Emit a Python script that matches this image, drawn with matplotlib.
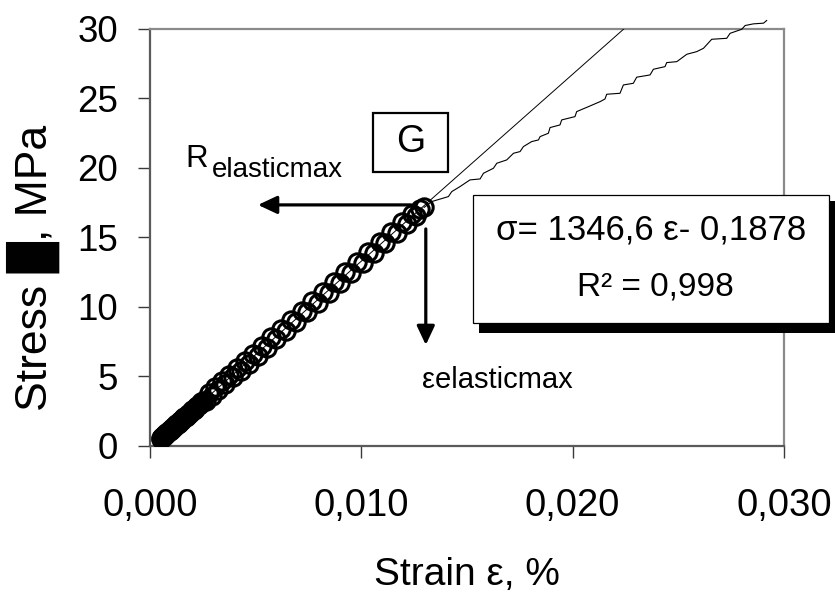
from __future__ import annotations

import matplotlib

matplotlib.use("Agg")
import matplotlib.pyplot as plt
from matplotlib.patches import Rectangle


# circles: measured points of the elastic part (strain, stress)
STRAIN = [
    0.00050, 0.00052, 0.00055, 0.00056, 0.00058, 0.00061, 0.00062, 0.00064, 0.00067, 0.00068,
    0.00070, 0.00073, 0.00074, 0.00076, 0.00078, 0.00080, 0.00082, 0.00084, 0.00086, 0.00088,
    0.00090, 0.00093, 0.00095, 0.00098, 0.00101, 0.00104, 0.00107, 0.00110, 0.00113, 0.00117,
    0.00120, 0.00124, 0.00128, 0.00132, 0.00136, 0.00140, 0.00144, 0.00149, 0.00153, 0.00158,
    0.00163, 0.00168, 0.00173, 0.00178, 0.00183, 0.00189, 0.00194, 0.00200, 0.00206, 0.00212,
    0.00218, 0.00224, 0.00230, 0.00237, 0.00243, 0.00250,
    0.00264, 0.00278, 0.00293, 0.00308, 0.00324, 0.00340, 0.00357, 0.00374, 0.00392, 0.00410,
    0.00429, 0.00448, 0.00468, 0.00488, 0.00509, 0.00530, 0.00552, 0.00574, 0.00597, 0.00620,
    0.00644, 0.00668, 0.00692, 0.00717, 0.00742, 0.00767, 0.00793, 0.00819, 0.00845, 0.00871,
    0.00898, 0.00925, 0.00952, 0.00979, 0.01006, 0.01033, 0.01060, 0.01087, 0.01114, 0.01141,
    0.01167, 0.01192, 0.01216, 0.01238, 0.01258, 0.01276, 0.01297,
]
STRESS = [
    0.50, 0.55, 0.52, 0.62, 0.63, 0.60, 0.64, 0.71, 0.69, 0.74,
    0.78, 0.76, 0.80, 0.86, 0.88, 0.87, 0.92, 0.97, 1.00, 1.02,
    1.02, 1.04, 1.10, 1.16, 1.15, 1.19, 1.25, 1.33, 1.33, 1.37,
    1.42, 1.52, 1.52, 1.57, 1.64, 1.74, 1.76, 1.80, 1.86, 1.98,
    2.02, 2.05, 2.14, 2.25, 2.30, 2.33, 2.44, 2.55, 2.58, 2.63,
    2.76, 2.88, 2.90, 2.96, 3.10, 3.23,
    3.20, 3.75, 3.60, 4.18, 4.00, 4.62, 4.42, 5.08, 4.90, 5.56,
    5.38, 6.08, 5.90, 6.62, 6.45, 7.18, 7.02, 7.78, 7.64, 8.40,
    8.26, 9.05, 8.92, 9.70, 9.58, 10.38, 10.27, 11.08, 10.97, 11.78,
    11.68, 12.50, 12.41, 13.22, 13.14, 13.95, 13.87, 14.68, 14.60, 15.40,
    15.31, 16.08, 15.98, 16.70, 16.55, 17.02, 17.15,
]

# continuous record after the elastic limit
CURVE_STRAIN = [
    0.01297, 0.01333, 0.01412, 0.01428, 0.01467, 0.01514, 0.01562, 0.01578, 0.01625, 0.01641,
    0.01688, 0.01720, 0.01751, 0.01767, 0.01806, 0.01838, 0.01846, 0.01885, 0.01893, 0.01940,
    0.01948, 0.02011, 0.02019, 0.02075, 0.02130, 0.02153, 0.02161, 0.02224, 0.02240, 0.02287,
    0.02303, 0.02366, 0.02382, 0.02437, 0.02445, 0.02493, 0.02540, 0.02587, 0.02619, 0.02658,
    0.02729, 0.02745, 0.02800, 0.02816, 0.02855, 0.02903, 0.02918,
]
CURVE_STRESS = [
    17.15, 17.57, 17.93, 18.29, 18.65, 19.13, 19.20, 19.61, 19.97, 20.33,
    20.57, 21.05, 21.17, 21.53, 21.89, 22.01, 22.25, 22.49, 22.90, 23.09,
    23.45, 23.69, 24.05, 24.41, 24.77, 24.96, 25.30, 25.37, 25.97, 26.09,
    26.53, 26.69, 27.10, 27.29, 27.58, 27.65, 28.18, 28.37, 28.61, 29.26,
    29.33, 29.69, 29.98, 30.25, 30.37, 30.42, 30.61,
]

# linear trend shown on the chart
FIT_SLOPE = 1346.6
FIT_INTERCEPT = -0.1878
FIT_RANGE = [0.00052, 0.0230]

X_TICKS = [0.0, 0.010, 0.020, 0.030]
X_TICK_LABELS = ["0,000", "0,010", "0,020", "0,030"]
Y_TICKS = [0, 5, 10, 15, 20, 25, 30]
Y_TICK_LABELS = ["0", "5", "10", "15", "20", "25", "30"]

EQUATION = "σ= 1346,6 ε- 0,1878"
R_SQUARED = "R² = 0,998"


def _style_axes(ax) -> None:
    ax.set_xlim(X_TICKS[0], X_TICKS[-1])
    ax.set_ylim(Y_TICKS[0], Y_TICKS[-1])
    ax.set_xticks(X_TICKS, X_TICK_LABELS)
    ax.set_yticks(Y_TICKS, Y_TICK_LABELS)
    for side in ("top", "right"):
        ax.spines[side].set_color("#8a8a8a")
        ax.spines[side].set_linewidth(1.6)
    for side in ("left", "bottom"):
        ax.spines[side].set_color("#5a5a5a")
        ax.spines[side].set_linewidth(1.6)
    ax.tick_params(axis="both", direction="out", length=8.6, width=1.0, color="#3a3a3a")
    ax.tick_params(axis="x", labelsize=27.5, pad=22)
    ax.tick_params(axis="y", labelsize=26.5, pad=14.4)
    ax.set_xlabel("Strain ε, %", fontsize=28, va="baseline")
    ax.xaxis.set_label_coords(0.5, -0.335)
    ax.set_ylabel("Stress █, MPa", fontsize=32, va="baseline")
    ax.yaxis.set_label_coords(-0.1625, 0.426)


def _annotate(ax) -> None:
    arrow = dict(arrowstyle="-|>,head_length=1.15,head_width=0.54", lw=2.3, color="black",
                 shrinkA=0, shrinkB=0)
    ax.annotate("", xy=(0.00511, 17.33), xytext=(0.01235, 17.33), arrowprops=arrow)
    ax.annotate("", xy=(0.01305, 7.24), xytext=(0.01305, 15.6), arrowprops=arrow)

    ax.text(0.00166, 20.06, "R", fontsize=22.5, ha="left", va="baseline")
    ax.text(0.00293, 19.34, "elasticmax", fontsize=20, ha="left", va="baseline")
    ax.text(0.01287, 4.14, "εelasticmax", fontsize=21, ha="left", va="baseline")

    ax.add_patch(Rectangle((0.010554, 19.70), 0.003549, 4.25, fill=False, ec="black", lw=1.6,
                           zorder=5))
    ax.text(0.01235, 21.15, "G", fontsize=27, ha="center", va="baseline", zorder=6)

    # equation box with a drop shadow, partly outside the plot frame
    ax.add_patch(Rectangle((0.01557, 8.11), 0.01709, 9.50, fc="black", ec="none", clip_on=False,
                           zorder=7))
    ax.add_patch(Rectangle((0.015286, 8.83), 0.016848, 9.22, fc="white", ec="black", lw=0.9,
                           clip_on=False, zorder=8))
    ax.text(0.02371, 14.81, EQUATION, fontsize=25, ha="center", va="baseline", zorder=9)
    ax.text(0.02389, 10.84, R_SQUARED, fontsize=24, ha="center", va="baseline", zorder=9)


def main() -> None:
    plt.rcParams["font.family"] = ["Liberation Sans", "DejaVu Sans"]
    fig = plt.figure(figsize=(8.35, 5.94), dpi=100)
    ax = fig.add_axes([150 / 835, 1 - 445.5 / 594, 634 / 835, 416.5 / 594])

    ax.plot(STRAIN, STRESS, ls="none", marker="o", ms=12.5, mfc="none", mec="black", mew=2.2,
            zorder=3)
    fit_y = [FIT_SLOPE * x + FIT_INTERCEPT for x in FIT_RANGE]
    ax.plot(FIT_RANGE, fit_y, color="black", lw=0.7, zorder=4)
    ax.plot(CURVE_STRAIN, CURVE_STRESS, color="black", lw=0.8, clip_on=False, zorder=4)

    _style_axes(ax)
    _annotate(ax)
    fig.savefig("out.png", dpi=100)
    plt.close(fig)


if __name__ == "__main__":
    main()
